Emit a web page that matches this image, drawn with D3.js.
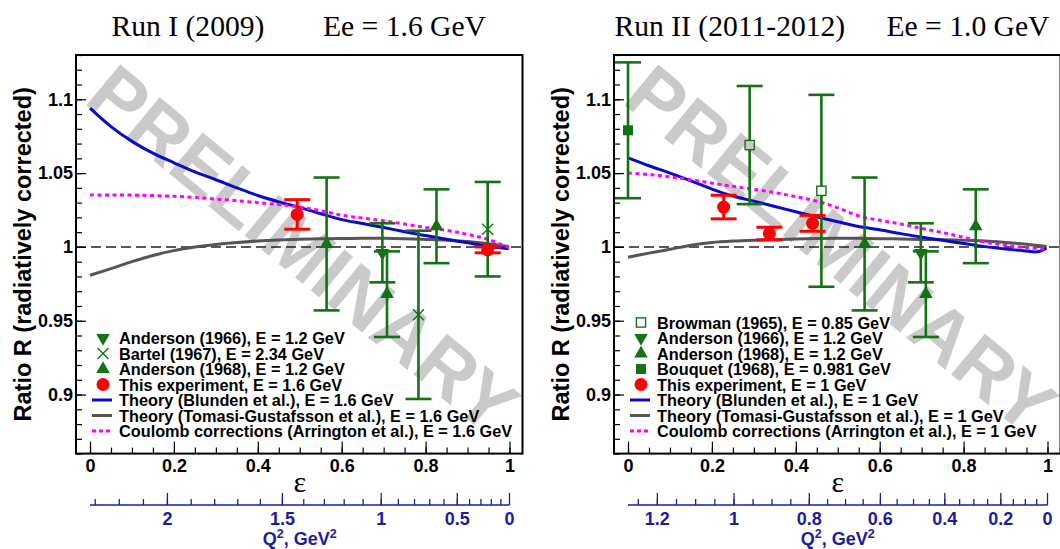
<!DOCTYPE html>
<html><head><meta charset="utf-8">
<script src="https://cdn.jsdelivr.net/npm/d3@7"></script>
<style>
html,body{margin:0;padding:0;background:#fff;}
svg{display:block;}
</style></head><body>
<svg id="c" width="1060" height="549" font-family="Liberation Sans, Arial, Helvetica, sans-serif"></svg>
<script>
// ---------------- data ----------------
// points: [epsilon, R, error]
const leftAnderson1966 = [[0.697, 0.996, 0.020]];
const leftBartel1967 = [[0.783, 0.954, 0.057], [0.948, 1.012, 0.032]];
const leftAnderson1968 = [[0.564, 1.002, 0.045], [0.708, 0.968, 0.029], [0.826, 1.014, 0.025]];
const leftThisExp = [[0.494, 1.022, 0.010], [0.948, 0.998, 0.002]];

const rightBrowman1965 = [[0.290, 1.069, 0.040], [0.461, 1.038, 0.065]];
const rightAnderson1966 = [[0.698, 0.996, 0.020]];
const rightAnderson1968 = [[0.564, 1.002, 0.045], [0.710, 0.968, 0.029], [0.829, 1.014, 0.025]];
const rightBouquet1968 = [[0.0, 1.079, 0.046]];
const rightThisExp = [[0.228, 1.027, 0.008], [0.337, 1.009, 0.0043], [0.440, 1.016, 0.0054]];

// curves: [epsilon, R]
const leftBlunden = [[0,1.094],[0.05,1.0815],[0.1,1.0715],[0.15,1.0635],[0.2,1.057],[0.25,1.0508],[0.3,1.0455],[0.35,1.0400],[0.4,1.0348],[0.45,1.0305],[0.5,1.0268],[0.55,1.0225],[0.6,1.0185],[0.65,1.0158],[0.7,1.0131],[0.75,1.0103],[0.8,1.0077],[0.85,1.0052],[0.9,1.0028],[0.95,1.0003],[0.998,0.9988]];
const leftTomasi = [[0,0.9808],[0.05,0.9853],[0.1,0.990],[0.15,0.9942],[0.2,0.9975],[0.25,0.9999],[0.3,1.0017],[0.35,1.003],[0.4,1.004],[0.45,1.0047],[0.5,1.0052],[0.55,1.0055],[0.6,1.0057],[0.65,1.0058],[0.7,1.0058],[0.75,1.0055],[0.8,1.0051],[0.85,1.0046],[0.9,1.0037],[0.95,1.0022],[0.998,1.0003]];
const leftArrington = [[0,1.0352],[0.05,1.0352],[0.1,1.0351],[0.15,1.0348],[0.2,1.0343],[0.25,1.0335],[0.3,1.0324],[0.35,1.0313],[0.4,1.0300],[0.45,1.0287],[0.5,1.027],[0.55,1.0245],[0.6,1.0215],[0.65,1.0195],[0.7,1.0177],[0.75,1.0155],[0.8,1.0132],[0.85,1.0112],[0.9,1.0085],[0.95,1.005],[0.998,0.9995]];

const rightBlunden = [[0,1.0603],[0.05,1.055],[0.1,1.050],[0.15,1.0448],[0.2,1.0392],[0.25,1.0345],[0.3,1.031],[0.35,1.0274],[0.4,1.0238],[0.45,1.0203],[0.5,1.017],[0.55,1.0138],[0.6,1.0116],[0.65,1.009],[0.7,1.0066],[0.75,1.0045],[0.8,1.0023],[0.85,1.0002],[0.9,0.9986],[0.95,0.9973],[0.975,0.9967],[0.998,0.9992]];
const rightTomasi = [[0,0.993],[0.05,0.9958],[0.1,0.9984],[0.15,1.0012],[0.2,1.003],[0.25,1.004],[0.3,1.0046],[0.35,1.005],[0.4,1.0054],[0.45,1.0057],[0.5,1.0058],[0.55,1.0058],[0.6,1.0056],[0.65,1.0054],[0.7,1.0051],[0.75,1.0048],[0.8,1.0045],[0.85,1.004],[0.9,1.003],[0.95,1.0018],[0.998,1.0003]];
const rightArrington = [[0,1.0501],[0.05,1.049],[0.1,1.0475],[0.15,1.0455],[0.2,1.0432],[0.25,1.041],[0.3,1.039],[0.35,1.0368],[0.4,1.034],[0.45,1.031],[0.5,1.0265],[0.55,1.021],[0.6,1.018],[0.65,1.0155],[0.7,1.0125],[0.75,1.0097],[0.8,1.0065],[0.85,1.0033],[0.9,1.0012],[0.95,0.9995],[0.998,0.9984]];

// axis ticks
const epsMajorTicks = [0, 0.2, 0.4, 0.6, 0.8, 1];
const epsTickLabels = ["0", "0.2", "0.4", "0.6", "0.8", "1"];
const rMajorTicks = [0.9, 0.95, 1, 1.05, 1.1];
const rTickLabels = ["0.9", "0.95", "1", "1.05", "1.1"];
const q2LeftMajor = [2, 1.5, 1, 0.5, 0];
const q2LeftLabels = ["2", "1.5", "1", "0.5", "0"];
const q2RightMajor = [1.2, 1, 0.8, 0.6, 0.4, 0.2, 0];
const q2RightLabels = ["1.2", "1", "0.8", "0.6", "0.4", "0.2", "0"];

const beamLeft = 1.6, beamRight = 1.0;
const titlesLeft = ["Run I (2009)", "Ee = 1.6 GeV"];
const titlesRight = ["Run II (2011-2012)", "Ee = 1.0 GeV"];
const yTitle = "Ratio R (radiatively corrected)";
const watermark = "PRELIMINARY";

const legendLeftLabels = ["Anderson (1966), E = 1.2 GeV", "Bartel (1967), E = 2.34 GeV", "Anderson (1968), E = 1.2 GeV", "This experiment, E = 1.6 GeV", "Theory (Blunden et al.), E = 1.6 GeV", "Theory (Tomasi-Gustafsson et al.), E = 1.6 GeV", "Coulomb corrections (Arrington et al.), E = 1.6 GeV"];
const legendRightLabels = ["Browman (1965), E = 0.85 GeV", "Anderson (1966), E = 1.2 GeV", "Anderson (1968), E = 1.2 GeV", "Bouquet (1968), E = 0.981 GeV", "This experiment, E = 1 GeV", "Theory (Blunden et al.), E = 1 GeV", "Theory (Tomasi-Gustafsson et al.), E = 1 GeV", "Coulomb corrections (Arrington et al.), E = 1 GeV"];

// ---------------- style ----------------
const GREEN = "#137313", RED = "#ff0000", BLUE = "#0a0ac8", GRAY = "#555555", MAG = "#ff00ff", QBLUE = "#1c1ca2", WM = "#cacaca";
const SANS = "Liberation Sans, Arial, Helvetica, sans-serif";
const SERIF = "Liberation Serif, Times New Roman, serif";

function epsOf(Q2, E) {
  const M = 0.938272;
  if (Q2 <= 0) return 1;
  const Ep = E - Q2 / (2 * M);
  const s2 = Q2 / (4 * E * Ep);
  const t2 = s2 / (1 - s2);
  const tau = Q2 / (4 * M * M);
  return 1 / (1 + 2 * (1 + tau) * t2);
}

const svg = d3.select("#c");

function marker(g, type, cx, cy) {
  if (type === "circle") {
    g.append("circle").attr("cx", cx).attr("cy", cy).attr("r", 6.5).attr("fill", RED);
  } else if (type === "up" || type === "down") {
    g.append("path").attr("d", d3.symbol(d3.symbolTriangle, 80)())
      .attr("transform", `translate(${cx},${cy}) rotate(${type === "down" ? 180 : 0})`)
      .attr("fill", GREEN);
  } else if (type === "x") {
    g.append("path").attr("d", "M-5.5,-5.5L5.5,5.5M-5.5,5.5L5.5,-5.5")
      .attr("transform", `translate(${cx},${cy})`).attr("stroke", GREEN).attr("stroke-width", 1.4).attr("fill", "none");
  } else if (type === "openSquare") {
    g.append("rect").attr("x", cx - 4.6).attr("y", cy - 4.6).attr("width", 9.2).attr("height", 9.2)
      .attr("fill", "none").attr("stroke", GREEN).attr("stroke-width", 1.4);
  } else if (type === "filledSquare") {
    g.append("rect").attr("x", cx - 5).attr("y", cy - 5).attr("width", 10).attr("height", 10).attr("fill", GREEN);
  }
}

function drawPanel(cfg) {
  const L = cfg.left, W = 446.5, T = 55, B = 453.6;
  const x = d3.scaleLinear().domain([-0.0334, 1.031]).range([L, L + W]);
  const y = d3.scaleLinear().domain([0.86, 1.13]).range([B, T]);
  const g = svg.append("g");

  // watermark
  g.append("text").text(watermark)
    .attr("transform", `translate(${L + 227.5},${248.5}) rotate(39.5)`)
    .attr("text-anchor", "middle").attr("dy", "0.358em")
    .attr("font-size", 77).attr("font-weight", "bold").attr("fill", WM);

  // reference line at 1
  g.append("line").attr("x1", x.range()[0]).attr("x2", x.range()[1])
    .attr("y1", y(1)).attr("y2", y(1))
    .attr("stroke", "#222").attr("stroke-width", 1.5).attr("stroke-dasharray", "10,5");

  // curves
  const line = d3.line().x(d => x(d[0])).y(d => y(d[1])).curve(d3.curveCatmullRom.alpha(0.5));
  g.append("path").datum(cfg.tomasi).attr("d", line).attr("fill", "none").attr("stroke", GRAY).attr("stroke-width", 3);
  g.append("path").datum(cfg.blunden).attr("d", line).attr("fill", "none").attr("stroke", BLUE).attr("stroke-width", 3);
  g.append("path").datum(cfg.arrington).attr("d", line).attr("fill", "none").attr("stroke", MAG).attr("stroke-width", 3).attr("stroke-dasharray", "4,3.5");

  // data points with error bars
  cfg.sets.forEach(s => {
    const col = s.type === "circle" ? RED : GREEN;
    s.data.forEach(d => {
      const cx = x(d[0]), cy = y(d[1]);
      const yt = y(d[1] + d[2]), yb = y(d[1] - d[2]);
      const gap = s.type === "openSquare" ? 4.6 : 0;
      const eg = g.append("g").attr("stroke", col).attr("stroke-width", s.type === "circle" ? 3 : 2.6);
      if (gap > 0) {
        if (cy - gap > yt) eg.append("line").attr("x1", cx).attr("x2", cx).attr("y1", yt).attr("y2", cy - gap);
        if (cy + gap < yb) eg.append("line").attr("x1", cx).attr("x2", cx).attr("y1", cy + gap).attr("y2", yb);
      } else {
        eg.append("line").attr("x1", cx).attr("x2", cx).attr("y1", yt).attr("y2", yb);
      }
      eg.append("line").attr("x1", cx - 13).attr("x2", cx + 13).attr("y1", yt).attr("y2", yt);
      eg.append("line").attr("x1", cx - 13).attr("x2", cx + 13).attr("y1", yb).attr("y2", yb);
      marker(g, s.type, cx, cy);
    });
  });

  // legend
  const n = cfg.legend.length;
  cfg.legend.forEach((lab, i) => {
    const ry = 431 - 15.5 * (n - 1 - i);
    const t = cfg.legendTypes[i];
    if (t.startsWith("line")) {
      const c = t === "lineBlue" ? BLUE : t === "lineGray" ? GRAY : MAG;
      g.append("line").attr("x1", L + 16).attr("x2", L + 36).attr("y1", ry).attr("y2", ry)
        .attr("stroke", c).attr("stroke-width", 3).attr("stroke-dasharray", t === "lineMag" ? "4,3" : null);
    } else {
      marker(g, t, L + 27, ry);
    }
    g.append("text").attr("x", L + 43).attr("y", ry + 6).text(lab)
      .attr("font-family", SANS).attr("font-size", 16.3).attr("font-weight", "bold").attr("fill", "#000");
  });

  // frame
  g.append("rect").attr("x", L).attr("y", T).attr("width", W).attr("height", B - T)
    .attr("fill", "none").attr("stroke", "#000").attr("stroke-width", 2);

  // y axis
  const yMinor = d3.range(86, 114).map(v => v / 100);
  g.append("g").attr("transform", `translate(${L},0)`)
    .call(d3.axisLeft(y).tickValues(yMinor).tickSize(-6).tickFormat(""))
    .call(a => a.select(".domain").remove())
    .call(a => a.selectAll("line").attr("stroke", "#000").attr("stroke-width", 1.2));
  g.append("g").attr("transform", `translate(${L},0)`)
    .call(d3.axisLeft(y).tickValues(rMajorTicks).tickSize(-10).tickPadding(3)
      .tickFormat((d, i) => rTickLabels[i]))
    .call(a => a.select(".domain").remove())
    .call(a => a.selectAll("line").attr("stroke", "#000").attr("stroke-width", 1.2))
    .call(a => a.selectAll("text").attr("font-size", 18).attr("font-weight", "bold")
      .attr("font-family", SANS).attr("fill", "#000"));

  // x axis
  const xMinor = d3.range(0, 21).map(v => v * 0.05);
  g.append("g").attr("transform", `translate(0,${B})`)
    .call(d3.axisBottom(x).tickValues(xMinor).tickSize(-6).tickFormat(""))
    .call(a => a.select(".domain").remove())
    .call(a => a.selectAll("line").attr("stroke", "#000").attr("stroke-width", 1.2));
  g.append("g").attr("transform", `translate(0,${B})`)
    .call(d3.axisBottom(x).tickValues(epsMajorTicks).tickSize(-12).tickPadding(6)
      .tickFormat((d, i) => epsTickLabels[i]))
    .call(a => a.select(".domain").remove())
    .call(a => a.selectAll("line").attr("stroke", "#000").attr("stroke-width", 1.2))
    .call(a => a.selectAll("text").attr("font-size", 18).attr("font-weight", "bold")
      .attr("font-family", SANS).attr("fill", "#000"));

  // epsilon label
  g.append("text").attr("x", x(0.5)).attr("y", 492).attr("text-anchor", "middle")
    .attr("font-family", SERIF).attr("font-size", 30).text("\u03B5");

  // Q2 axis
  const qy = 505;
  const qg = g.append("g");
  qg.append("line").attr("x1", x(0)).attr("x2", x(1)).attr("y1", qy).attr("y2", qy)
    .attr("stroke", QBLUE).attr("stroke-width", 1.6);
  qg.selectAll("line.qmin").data(cfg.q2Minor).join("line").attr("class", "qmin")
    .attr("x1", d => x(epsOf(d, cfg.E))).attr("x2", d => x(epsOf(d, cfg.E)))
    .attr("y1", qy).attr("y2", qy - 6).attr("stroke", QBLUE).attr("stroke-width", 1.3);
  qg.selectAll("line.qmaj").data(cfg.q2Major).join("line").attr("class", "qmaj")
    .attr("x1", d => x(epsOf(d, cfg.E))).attr("x2", d => x(epsOf(d, cfg.E)))
    .attr("y1", qy).attr("y2", qy - 12).attr("stroke", QBLUE).attr("stroke-width", 1.3);
  qg.selectAll("text.qlab").data(cfg.q2Major).join("text").attr("class", "qlab")
    .attr("x", d => x(epsOf(d, cfg.E))).attr("y", 524.5).attr("text-anchor", "middle")
    .attr("font-family", SANS).attr("font-size", 18).attr("font-weight", "bold").attr("fill", QBLUE)
    .text((d, i) => cfg.q2Labels[i]);
  const ql = qg.append("text").attr("x", x(0.5)).attr("y", 545).attr("text-anchor", "middle")
    .attr("font-family", SANS).attr("font-size", 18).attr("font-weight", "bold").attr("fill", QBLUE);
  ql.append("tspan").text("Q");
  ql.append("tspan").text("2").attr("font-size", 12.5).attr("dy", -7.5);
  ql.append("tspan").text(", GeV").attr("dy", 7.5);
  ql.append("tspan").text("2").attr("font-size", 12.5).attr("dy", -7.5);

  // titles
  cfg.titles.forEach((t, i) => {
    g.append("text").attr("x", cfg.titleX[i]).attr("y", 36).text(t)
      .attr("font-family", SERIF).attr("font-size", 29.6).attr("fill", "#000");
  });

  // y title
  g.append("text").attr("transform", `translate(${cfg.yTitleX},${(T + B) / 2}) rotate(-90)`)
    .attr("text-anchor", "middle").attr("font-family", SANS)
    .attr("font-size", 23.5).attr("font-weight", "bold").text(yTitle);
}

drawPanel({
  left: 76, E: beamLeft,
  blunden: leftBlunden, tomasi: leftTomasi, arrington: leftArrington,
  sets: [
    {type: "down", data: leftAnderson1966},
    {type: "x", data: leftBartel1967},
    {type: "up", data: leftAnderson1968},
    {type: "circle", data: leftThisExp}
  ],
  legend: legendLeftLabels,
  legendTypes: ["down", "x", "up", "circle", "lineBlue", "lineGray", "lineMag"],
  q2Major: q2LeftMajor, q2Labels: q2LeftLabels,
  q2Minor: d3.range(1, 24).map(v => v / 10),
  titles: titlesLeft, titleX: [111.5, 323], yTitleX: 31
});

drawPanel({
  left: 614, E: beamRight,
  blunden: rightBlunden, tomasi: rightTomasi, arrington: rightArrington,
  sets: [
    {type: "openSquare", data: rightBrowman1965},
    {type: "down", data: rightAnderson1966},
    {type: "up", data: rightAnderson1968},
    {type: "filledSquare", data: rightBouquet1968},
    {type: "circle", data: rightThisExp}
  ],
  legend: legendRightLabels,
  legendTypes: ["openSquare", "down", "up", "filledSquare", "circle", "lineBlue", "lineGray", "lineMag"],
  q2Major: q2RightMajor, q2Labels: q2RightLabels,
  q2Minor: d3.range(1, 26).map(v => v / 20),
  titles: titlesRight, titleX: [614.5, 886.5], yTitleX: 568.5
});
</script>
</body></html>
